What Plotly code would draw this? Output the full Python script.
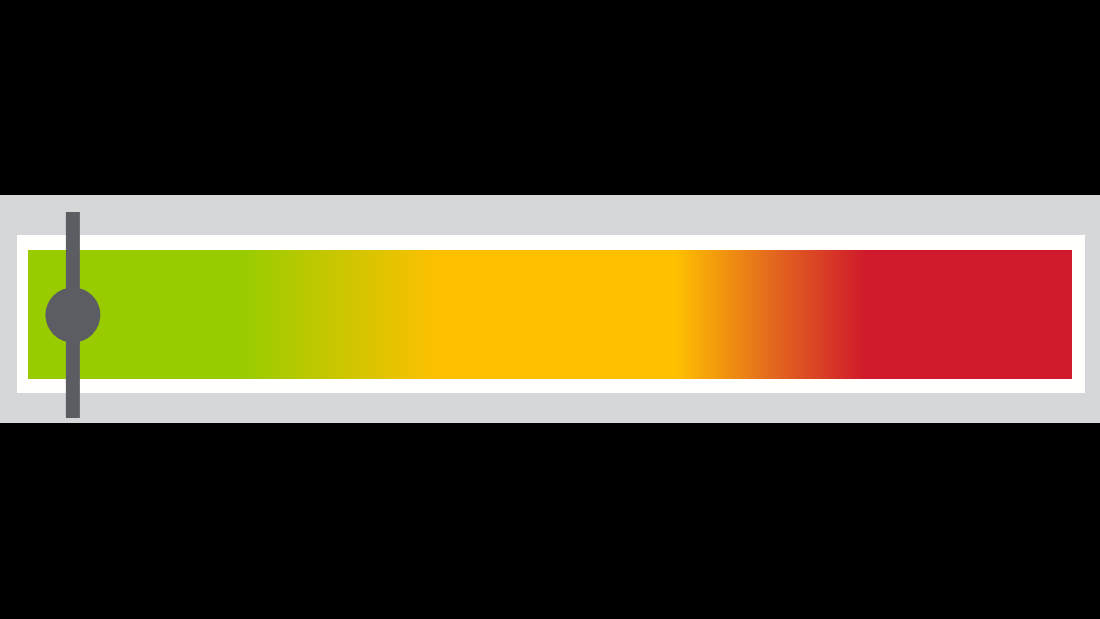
import plotly.graph_objects as go

# Gauge scale and current reading
scale_min = 0
scale_max = 100
reading = 4.3

# Colour bands along the scale (position in gauge units, colour)
stop_pos = [0, 20.8, 39.5, 62.0, 71.1, 80.2, 100]
stop_col = ['#99CC00', '#99CC00', '#FFC000', '#FFC000', '#E36A1E', '#D01A2B', '#D01A2B']

span = scale_max - scale_min
colorscale = [[(p - scale_min) / span, c] for p, c in zip(stop_pos, stop_col)]

fig = go.Figure()

# Gradient bar
fig.add_trace(go.Scatter(
    x=[scale_min, scale_max, scale_max, scale_min, scale_min],
    y=[250, 250, 379, 379, 250],
    mode='lines', line=dict(width=0), fill='toself',
    fillgradient=dict(type='horizontal', colorscale=colorscale,
                      start=scale_min, stop=scale_max),
    hoverinfo='skip', showlegend=False,
))

# Needle line and knob
fig.add_trace(go.Scatter(
    x=[reading, reading], y=[212, 418], mode='lines',
    line=dict(color='#5B5D63', width=14), hoverinfo='skip', showlegend=False,
))
fig.add_trace(go.Scatter(
    x=[reading], y=[315], mode='markers',
    marker=dict(color='#5B5D63', size=55, line=dict(width=0)),
    hoverinfo='skip', showlegend=False,
))

px_per_unit = (1072 - 28) / span
x0 = scale_min - 28 / px_per_unit
x1 = scale_max + 28 / px_per_unit

# Gray frame and white inner panel behind the bar
fig.add_shape(type='rect', xref='x', yref='y', layer='below',
              x0=x0, x1=x1, y0=195, y1=423, fillcolor='#D5D7D9', line_width=0)
fig.add_shape(type='rect', xref='x', yref='y', layer='below',
              x0=scale_min - 11 / px_per_unit, x1=scale_max + 13 / px_per_unit,
              y0=235, y1=393, fillcolor='#FFFFFD', line_width=0)

fig.update_layout(
    width=1100, height=619,
    margin=dict(l=0, r=0, t=0, b=0),
    paper_bgcolor='black', plot_bgcolor='black',
    showlegend=False,
)
fig.update_xaxes(range=[x0, x1], visible=False, fixedrange=True)
fig.update_yaxes(range=[619, 0], visible=False, fixedrange=True)

# drop the default page margin so the figure fills the window
fig.write_html("out.html", config={'displayModeBar': False},
               post_script="document.body.style.margin='0';"
                           "document.body.style.background='black';"
                           "document.body.style.overflow='hidden';")
